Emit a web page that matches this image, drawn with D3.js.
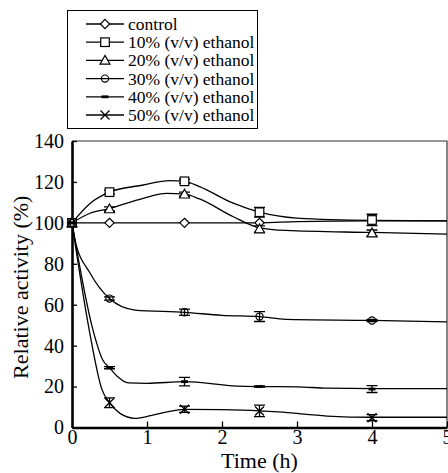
<!DOCTYPE html>
<html>
<head>
<script src="https://cdn.jsdelivr.net/npm/d3@7"></script>
</head>
<body style="margin:0">
<script>
let width = 448;
let height = 473;
let fontName = "Liberation Serif";

// sampling times (h)
let times = [0, 0.5, 1.5, 2.5, 4];

let labels = ["control", "10% (v/v) ethanol", "20% (v/v) ethanol",
    "30% (v/v) ethanol", "40% (v/v) ethanol", "50% (v/v) ethanol"];

// mean relative activity (%) at each time
let meanControl = [100, 100, 100, 100, 101];
let mean10 = [100, 115, 120.3, 105.2, 101.4];
let mean20 = [100, 106.8, 114, 97, 95];
let mean30 = [100, 63, 56.3, 54.2, 52.3];
let mean40 = [100, 29.2, 22.4, 20, 18.8];
let mean50 = [100, 12.1, 8.9, 8.1, 4.8];

// error bars (+/-)
let errControl = [0, 0, 0, 0, 0];
let err10 = [0, 1, 1, 2.4, 2.8];
let err20 = [0, 1, 1, 1.5, 1.5];
let err30 = [0, 0.8, 1.5, 2.4, 0.5];
let err40 = [0, 0.5, 2.1, 0.3, 1.7];
let err50 = [0, 2.4, 1.5, 2.8, 1.5];

// smoothed trend lines as drawn in the figure [time, activity]
let curveControl = [[0, 100], [1.5, 100], [2.5, 100], [3.0, 100.6], [4, 101], [5, 101]];
let curve10 = [[0, 100], [0.24, 109.5], [0.5, 115], [0.95, 118.5], [1.3, 120.6], [1.5, 120.3],
    [1.7, 117.7], [2.15, 109.6], [2.5, 105.2], [3.0, 102.3], [4, 101.2], [5, 101]];
let curve20 = [[0, 100], [0.24, 104.7], [0.5, 107], [0.95, 112], [1.26, 114.4], [1.5, 114],
    [1.7, 111.7], [2.15, 103], [2.5, 97.6], [2.85, 96.3], [4, 95.3], [5, 94.5]];
let curve30 = [[0, 100], [0.04, 91.6], [0.24, 75.5], [0.5, 63], [0.84, 57.4], [1.5, 56.3],
    [2.0, 54.8], [2.5, 54.2], [2.85, 52.8], [4, 52.3], [5, 51.6]];
let curve40 = [[0, 100], [0.28, 47.6], [0.41, 33], [0.5, 29.2], [0.61, 24.8], [0.75, 21.8],
    [1.0, 21.6], [1.5, 22.4], [2.2, 20.2], [2.5, 20], [3.0, 19.9], [3.4, 19.2], [4, 19], [5, 19]];
let curve50 = [[0, 100], [0.23, 47.6], [0.4, 18.5], [0.5, 12.1], [0.64, 6.9], [0.84, 4.5],
    [1.05, 5.8], [1.25, 7.5], [1.5, 8.9], [2.0, 8.7], [2.5, 8.1], [2.75, 7.6], [3.4, 5.6],
    [4, 5], [5, 5]];

let xTicks = [0, 1, 2, 3, 4, 5];
let yTicks = [0, 20, 40, 60, 80, 100, 120, 140];

let series = [
    { kind: "diamond", mean: meanControl, err: errControl, curve: curveControl },
    { kind: "square", mean: mean10, err: err10, curve: curve10 },
    { kind: "triangle", mean: mean20, err: err20, curve: curve20 },
    { kind: "circle", mean: mean30, err: err30, curve: curve30 },
    { kind: "dash", mean: mean40, err: err40, curve: curve40 },
    { kind: "x", mean: mean50, err: err50, curve: curve50 },
];

let x = d3.scaleLinear().domain([0, 5]).range([72, 447]);
let y = d3.scaleLinear().domain([0, 140]).range([427.5, 141]);

let svg = d3.select("body").append("svg")
    .attr("width", width)
    .attr("height", height);

function drawMarker(g, kind) {
    if (kind === "diamond") {
        g.append("path").attr("d", "M0,-4.6L4.6,0L0,4.6L-4.6,0Z")
            .attr("fill", "white").attr("stroke", "black").attr("stroke-width", 1.2);
    } else if (kind === "square") {
        g.append("rect").attr("x", -4.3).attr("y", -4.3).attr("width", 8.6).attr("height", 8.6)
            .attr("fill", "white").attr("stroke", "black").attr("stroke-width", 1.2);
    } else if (kind === "triangle") {
        g.append("path").attr("d", "M0,-5L5,3.8L-5,3.8Z")
            .attr("fill", "white").attr("stroke", "black").attr("stroke-width", 1.2);
    } else if (kind === "circle") {
        g.append("circle").attr("r", 3.6)
            .attr("fill", "none").attr("stroke", "black").attr("stroke-width", 1.2);
    } else if (kind === "dash") {
        g.append("rect").attr("x", -3.5).attr("y", -1.4).attr("width", 7).attr("height", 2.8)
            .attr("fill", "black");
    } else if (kind === "x") {
        g.append("path").attr("d", "M-4.5,-4.5L4.5,4.5M4.5,-4.5L-4.5,4.5")
            .attr("fill", "none").attr("stroke", "black").attr("stroke-width", 1.3);
    }
}

// Plot frame (top and right, thin)
svg.append("path")
    .attr("d", `M${x(0)},${y(140)}H${x(5)}V${y(0)}`)
    .attr("fill", "none")
    .attr("stroke", "#333")
    .attr("stroke-width", 1.2);

// Axes
let xAxis = svg.append("g")
    .attr("transform", `translate(0,${y(0)})`)
    .call(d3.axisBottom(x).tickValues(xTicks).tickFormat(d3.format("d"))
        .tickSizeInner(-6).tickSizeOuter(0).tickPadding(2));
let yAxis = svg.append("g")
    .attr("transform", `translate(${x(0)},0)`)
    .call(d3.axisLeft(y).tickValues(yTicks).tickFormat(d3.format("d"))
        .tickSizeInner(-5).tickSizeOuter(0).tickPadding(8));

[xAxis, yAxis].forEach(a => {
    a.attr("font-family", fontName).attr("font-size", 20);
    a.select(".domain").attr("stroke", "black").attr("stroke-width", 2.6);
    a.selectAll(".tick line").attr("stroke", "black").attr("stroke-width", 1.3);
    a.selectAll(".tick text").attr("fill", "black").attr("font-family", fontName);
});

// Trend lines
let line = d3.line()
    .x(d => x(d[0]))
    .y(d => y(d[1]))
    .curve(d3.curveMonotoneX);

let g = svg.append("g");
g.selectAll("path.trend")
    .data(series)
    .enter()
    .append("path")
    .attr("class", "trend")
    .attr("d", d => line(d.curve))
    .attr("fill", "none")
    .attr("stroke", "black")
    .attr("stroke-width", 1.3);

// Error bars and markers
series.forEach(s => {
    let sg = g.append("g");
    times.forEach((t, i) => {
        let e = s.err[i];
        if (e > 0) {
            let cx = x(t);
            sg.append("path")
                .attr("d", `M${cx},${y(s.mean[i] + e)}V${y(s.mean[i] - e)}` +
                    `M${cx - 5.5},${y(s.mean[i] + e)}H${cx + 5.5}` +
                    `M${cx - 5.5},${y(s.mean[i] - e)}H${cx + 5.5}`)
                .attr("fill", "none")
                .attr("stroke", "black")
                .attr("stroke-width", 1.3);
        }
    });
    times.forEach((t, i) => {
        let mg = sg.append("g").attr("transform", `translate(${x(t)},${y(s.mean[i])})`);
        drawMarker(mg, s.kind);
    });
});

// Axis titles
svg.append("text")
    .attr("x", (x(0) + x(5)) / 2)
    .attr("y", 468)
    .attr("text-anchor", "middle")
    .attr("font-family", fontName)
    .attr("font-size", 22)
    .text("Time (h)");

svg.append("text")
    .attr("transform", `translate(28,${(y(0) + y(140)) / 2 + 3}) rotate(-90)`)
    .attr("text-anchor", "middle")
    .attr("font-family", fontName)
    .attr("font-size", 22)
    .text("Relative activity (%)");

// Legend
let legend = svg.append("g");
legend.append("rect")
    .attr("x", 67.5).attr("y", 10.5)
    .attr("width", 190).attr("height", 118)
    .attr("fill", "white")
    .attr("stroke", "black")
    .attr("stroke-width", 1);

labels.forEach((lab, i) => {
    let ly = 24 + i * 18.2;
    let row = legend.append("g").attr("transform", `translate(0,${ly})`);
    row.append("line")
        .attr("x1", 86).attr("x2", 124)
        .attr("stroke", "black").attr("stroke-width", 1.3);
    drawMarker(row.append("g").attr("transform", "translate(105,0)"), series[i].kind);
    row.append("text")
        .attr("x", 128)
        .attr("y", 6)
        .attr("font-family", fontName)
        .attr("font-size", 17.5)
        .text(lab);
});
</script>
</body>
</html>
